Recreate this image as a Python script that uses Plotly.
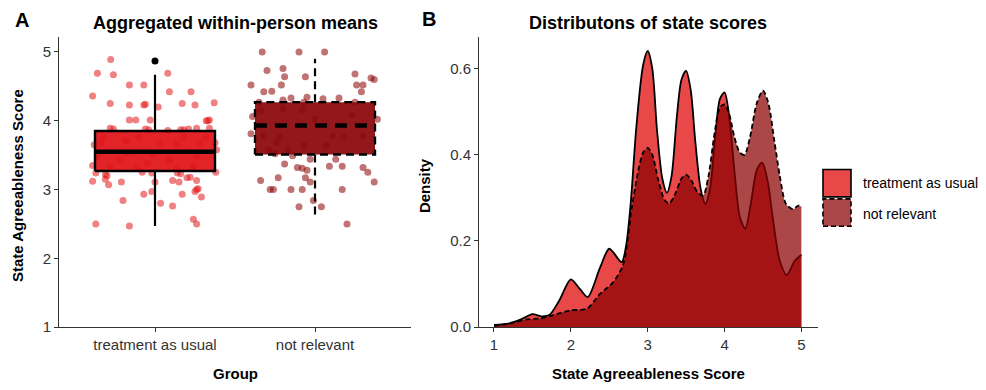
import plotly.graph_objects as go

# ---------------- data ----------------
groups = ["treatment as usual", "not relevant"]
group_pos = [1, 2]

# jittered within-person means: (jitter offset, value)
tau_jit = [-0.277, -0.36, -0.26, 0.08, -0.16, -0.07, -0.39, 0.09, 0.225, -0.28, -0.16, -0.07, -0.06, 0.02,
           0.17, 0.25, 0.37, -0.16, -0.12, -0.03, 0.33, 0.32, 0.34, -0.28, -0.26, -0.06, -0.04, 0.08, 0.16,
           0.18, 0.21, 0.26, 0.34, -0.38, 0.375, 0.385, -0.39, -0.37, -0.31, -0.30, -0.31, -0.39, -0.29,
           -0.21, -0.08, -0.02, 0.14, 0.16, 0.20, 0.22, 0.26, 0.11, 0.15, 0.0, 0.26, 0.27, 0.25, 0.38,
           -0.02, -0.07, 0.17, 0.29, -0.20, 0.035, 0.11, -0.37, -0.16, 0.24, 0.26,
           -0.32, -0.18, -0.10, 0.03, 0.18, 0.28, 0.32, -0.36, -0.22, -0.05, 0.09, 0.26, -0.28, -0.11,
           0.14, 0.24, -0.01, -0.18, -0.34, 0.14]
tau_val = [4.89, 4.69, 4.67, 4.69, 4.52, 4.52, 4.36, 4.42, 4.42, 4.25, 4.23, 4.23, 4.24, 4.20,
           4.25, 4.23, 4.26, 4.01, 4.01, 4.01, 4.00, 4.00, 4.01, 3.89, 3.88, 3.88, 3.87, 3.86, 3.87,
           3.87, 3.88, 3.89, 3.89, 3.65, 3.68, 3.58, 3.35, 3.24, 3.22, 3.20, 3.15, 3.12, 3.07,
           3.11, 3.25, 3.24, 3.24, 3.23, 3.17, 3.18, 3.13, 3.13, 3.11, 3.11, 3.00, 3.01, 2.97, 3.25,
           2.97, 2.93, 2.93, 2.89, 2.84, 2.80, 2.76, 2.50, 2.47, 2.57, 2.50,
           3.76, 3.71, 3.76, 3.67, 3.76, 3.67, 3.76, 3.48, 3.43, 3.38, 3.43, 3.48, 3.33, 3.31,
           3.31, 3.33, 3.52, 3.53, 3.67, 3.66]

nr_jit = [-0.33, -0.10, 0.06, -0.30, -0.20, -0.19, -0.06, 0.25, 0.35, 0.37, -0.40, -0.32, -0.27, -0.21,
          0.26, 0.30, 0.29, -0.20, -0.15, -0.05, 0.05, 0.15, -0.35, -0.07, 0.25,
          -0.39, -0.34, -0.20, -0.08, 0.0, 0.23, 0.39, -0.40, -0.32, -0.22, -0.24, 0.11, 0.18, 0.30,
          -0.07, 0.07, -0.29, -0.17,
          -0.25, -0.14, -0.03, 0.13, -0.19, -0.11, -0.08, 0.09, 0.17, 0.30, 0.33, -0.05, -0.23, -0.34,
          -0.06, -0.03, 0.37, -0.28, -0.26, -0.15, -0.08, 0.17, -0.01, -0.10, 0.04, 0.20]
nr_val = [5.00, 5.00, 5.00, 4.73, 4.76, 4.64, 4.64, 4.68, 4.62, 4.60, 4.52, 4.42, 4.43, 4.52,
          4.52, 4.52, 4.42, 4.30, 4.33, 4.34, 4.32, 4.33, 4.27, 4.27, 4.27,
          4.06, 4.14, 4.18, 4.16, 4.02, 4.08, 4.02, 3.81, 3.78, 3.77, 3.68, 3.78, 3.77, 3.78,
          3.64, 3.64, 3.57, 3.57,
          3.52, 3.49, 3.44, 3.44, 3.37, 3.32, 3.31, 3.34, 3.34, 3.32, 3.25, 3.28, 3.17, 3.13,
          3.17, 3.11, 3.11, 3.00, 3.00, 3.00, 3.00, 3.00, 2.84, 2.75, 2.75, 2.50]

# boxplot statistics
box_q1 = [3.27, 3.51]
box_med = [3.55, 3.93]
box_q3 = [3.85, 4.27]
box_lo = [2.47, 2.61]
box_hi = [4.67, 4.90]
outlier_val = [4.87]  # treatment as usual

# density curves of state scores
dens_x_tau = [1.0, 1.2, 1.35, 1.5, 1.62, 1.72, 1.85, 2.0, 2.12, 2.22, 2.38, 2.5, 2.66, 2.72, 2.78, 2.85,
              2.94, 3.0, 3.06, 3.12, 3.19, 3.25, 3.31, 3.38, 3.44, 3.5, 3.56, 3.62, 3.69, 3.75, 3.81,
              3.88, 3.94, 4.0, 4.06, 4.13, 4.2, 4.27, 4.34, 4.42, 4.49, 4.56, 4.63, 4.72, 4.81, 4.91, 5.0]
dens_y_tau = [0.005, 0.009, 0.018, 0.030, 0.025, 0.028, 0.062, 0.111, 0.088, 0.070, 0.138, 0.182, 0.151,
              0.19, 0.29, 0.46, 0.608, 0.641, 0.60, 0.46, 0.345, 0.312, 0.35, 0.49, 0.575, 0.595,
              0.55, 0.43, 0.32, 0.286, 0.32, 0.445, 0.53, 0.545, 0.49, 0.36, 0.255, 0.229, 0.285,
              0.365, 0.382, 0.34, 0.25, 0.153, 0.121, 0.153, 0.168]
dens_x_nr = [1.0, 1.2, 1.43, 1.6, 1.77, 2.0, 2.21, 2.38, 2.55, 2.68, 2.79, 2.88, 2.94, 3.0, 3.06, 3.14,
             3.22, 3.28, 3.36, 3.44, 3.5, 3.57, 3.64, 3.72, 3.79, 3.87, 3.94, 4.0, 4.06, 4.13, 4.2,
             4.26, 4.33, 4.42, 4.5, 4.57, 4.65, 4.72, 4.8, 4.89, 4.96, 5.0]
dens_y_nr = [0.003, 0.008, 0.018, 0.020, 0.028, 0.039, 0.043, 0.077, 0.104, 0.145, 0.274, 0.365, 0.405,
             0.416, 0.40, 0.34, 0.295, 0.287, 0.31, 0.345, 0.354, 0.34, 0.315, 0.305, 0.35, 0.45,
             0.51, 0.517, 0.495, 0.44, 0.405, 0.40, 0.44, 0.52, 0.549, 0.52, 0.43, 0.35, 0.286,
             0.274, 0.282, 0.28]

y_ticks_left = [1, 2, 3, 4, 5]
x_ticks_right = [1, 2, 3, 4, 5]
y_ticks_right = [0.0, 0.2, 0.4, 0.6]

# ---------------- styles ----------------
RED = "rgba(228,26,28,0.80)"
DRED = "rgba(139,0,0,0.72)"
FONT = "Liberation Sans, Arial, sans-serif"
half_w = 0.375

fig = go.Figure()

# jitter points
fig.add_trace(go.Scatter(x=[group_pos[0] + j for j in tau_jit], y=tau_val, mode="markers",
                         marker=dict(size=7, color="rgba(228,26,28,0.55)"), xaxis="x", yaxis="y",
                         hoverinfo="skip"))
fig.add_trace(go.Scatter(x=[group_pos[1] + j for j in nr_jit], y=nr_val, mode="markers",
                         marker=dict(size=7, color="rgba(139,0,0,0.55)"), xaxis="x", yaxis="y",
                         hoverinfo="skip"))

box_fill = ["rgba(224,18,24,0.93)", "rgba(139,6,10,0.93)"]
dashes = ["solid", "8px,5px"]
med_dashes = ["solid", "12px,8px"]
for i in range(2):
    c = group_pos[i]
    # whiskers
    for a, b in [(box_q3[i], box_hi[i]), (box_q1[i], box_lo[i])]:
        fig.add_trace(go.Scatter(x=[c, c], y=[a, b], mode="lines",
                                 line=dict(color="black", width=2.2, dash=dashes[i]),
                                 xaxis="x", yaxis="y", hoverinfo="skip"))
    # box body
    fig.add_trace(go.Scatter(x=[c - half_w, c + half_w, c + half_w, c - half_w, c - half_w],
                             y=[box_q1[i], box_q1[i], box_q3[i], box_q3[i], box_q1[i]],
                             mode="lines", fill="toself", fillcolor=box_fill[i],
                             line=dict(color="black", width=2.4, dash=dashes[i]),
                             xaxis="x", yaxis="y", hoverinfo="skip"))
    # median
    fig.add_trace(go.Scatter(x=[c - half_w, c + half_w], y=[box_med[i], box_med[i]], mode="lines",
                             line=dict(color="black", width=4.5, dash=med_dashes[i]),
                             xaxis="x", yaxis="y", hoverinfo="skip"))

# outlier
fig.add_trace(go.Scatter(x=[group_pos[0]] * len(outlier_val), y=outlier_val, mode="markers",
                         marker=dict(size=7, color="black"), xaxis="x", yaxis="y", hoverinfo="skip"))

# densities
fig.add_trace(go.Scatter(x=dens_x_tau, y=dens_y_tau, mode="lines", fill="tozeroy", fillcolor=RED,
                         line=dict(color="black", width=1.8, shape="spline", smoothing=0.8),
                         xaxis="x2", yaxis="y2", name=groups[0]))
fig.add_trace(go.Scatter(x=dens_x_nr, y=dens_y_nr, mode="lines", fill="tozeroy", fillcolor=DRED,
                         line=dict(color="black", width=1.8, dash="5px,3px", shape="spline", smoothing=0.8),
                         xaxis="x2", yaxis="y2", name=groups[1]))

W, H = 986, 390
def px(x):
    return x / W
def py(y):
    return 1 - y / H

axis_common = dict(showline=True, linecolor="#333333", linewidth=1, ticks="outside", ticklen=4,
                   tickcolor="#333333", showgrid=False, zeroline=False,
                   tickfont=dict(family=FONT, size=15, color="#333333"))

fig.update_layout(
    width=W, height=H, margin=dict(l=0, r=0, t=0, b=0),
    paper_bgcolor="white", plot_bgcolor="white", showlegend=False,
    font=dict(family=FONT, color="black"),
    xaxis=dict(domain=[px(59), px(411)], range=[0.4, 2.6], tickvals=group_pos, ticktext=groups,
               anchor="y", **axis_common),
    yaxis=dict(domain=[py(334), py(38)], range=[1, 5.214], tickvals=y_ticks_left, anchor="x",
               **axis_common),
    xaxis2=dict(domain=[px(479), px(818)], range=[0.805, 5.216], tickvals=x_ticks_right,
                anchor="y2", **axis_common),
    yaxis2=dict(domain=[py(334), py(38)], range=[0, 0.673], tickvals=y_ticks_right,
                tickformat=".1f", anchor="x2", **axis_common),
)

ann = []
def text(x, y, s, size, bold=True, angle=0, xanchor="center"):
    ann.append(dict(x=px(x), y=py(y), xref="paper", yref="paper", text=f"<b>{s}</b>" if bold else s,
                    showarrow=False, textangle=angle, xanchor=xanchor, yanchor="middle",
                    font=dict(family=FONT, size=size, color="black")))

text(22, 20, "A", 20)
text(429, 19, "B", 20)
text(235, 23, "Aggregated within-person means", 18)
text(648, 23, "Distributons of state scores", 18)
text(17, 190, "State Agreeableness Score", 15, angle=-90)
text(424, 190, "Density", 15, angle=-90)
text(235, 381, "Group", 15)
text(648, 381, "State Agreeableness Score", 15)
text(861, 187, groups[0], 14, bold=False, xanchor="left")
text(861, 218, groups[1], 14, bold=False, xanchor="left")

shapes = [
    dict(type="rect", xref="paper", yref="paper", x0=px(823), x1=px(851), y0=py(201), y1=py(173),
         fillcolor=RED, line=dict(color="black", width=1.6)),
    dict(type="rect", xref="paper", yref="paper", x0=px(823), x1=px(851), y0=py(231), y1=py(203),
         fillcolor=DRED, line=dict(color="black", width=1.6, dash="5px,3px")),
]
fig.update_layout(annotations=ann, shapes=shapes)

fig.write_html("out.html")
